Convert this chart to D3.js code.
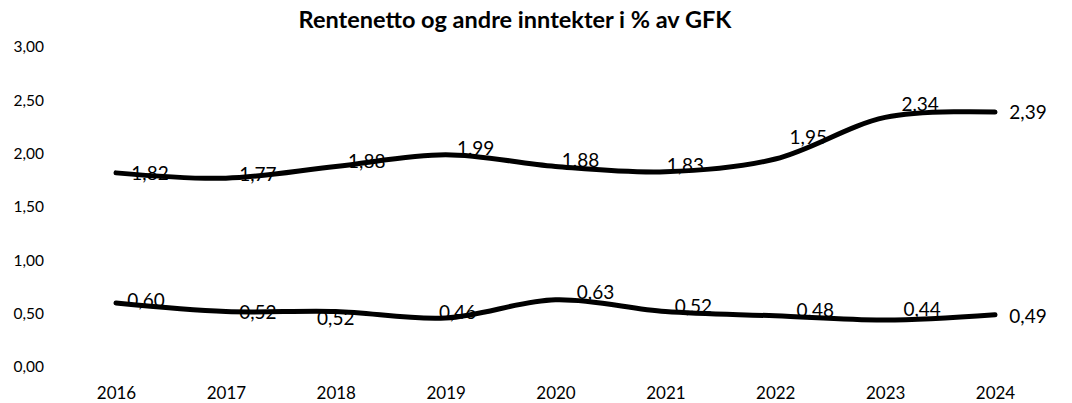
<!DOCTYPE html>
<html>
<head>
<meta charset="utf-8">
<script src="https://cdn.jsdelivr.net/npm/d3@7"></script>
<style>
  body { margin: 0; background: #fff; }
  svg { display: block; font-family: Lato, "Open Sans", sans-serif; }
</style>
</head>
<body>
<svg id="chart"></svg>
<script>
const years = ['2016', '2017', '2018', '2019', '2020', '2021', '2022', '2023', '2024'];
const rentenetto = [1.82, 1.77, 1.88, 1.99, 1.88, 1.83, 1.95, 2.34, 2.39];
const andreInntekter = [0.60, 0.52, 0.52, 0.46, 0.63, 0.52, 0.48, 0.44, 0.49];
const yTicks = [0, 0.5, 1, 1.5, 2, 2.5, 3];
const title = 'Rentenetto og andre inntekter i % av GFK';

const width = 1072, height = 403;
const fmt = d => d.toFixed(2).replace('.', ',');

// hand placed label nudges (dx, dy) from the point, like in the original sheet
const labelNudge = [
    [[34, 0], [32, -4], [31, -5], [30, -6], [25, -6], [20, -6], [33, -22], [35, -13], [33, 0]],
    [[30, -3], [32, 1], [0, 7], [12, -6], [40, -7], [28, -5], [40, -5], [37, -11], [33, 2]]
];

const svg = d3.select('#chart')
    .attr('width', width)
    .attr('height', height);

const x = d3.scalePoint()
    .domain(years)
    .range([116, 995]);

const y = d3.scaleLinear()
    .domain([0, 3])
    .range([367, 47]);

svg.append('text')
    .attr('x', 515)
    .attr('y', 28)
    .attr('text-anchor', 'middle')
    .attr('font-weight', 'bold')
    .attr('font-size', '23.5px')
    .text(title);

// y axis, labels only
const yAxis = svg.append('g')
    .attr('transform', 'translate(44,0)')
    .call(d3.axisLeft(y).tickValues(yTicks).tickFormat(fmt).tickSize(0).tickPadding(0));
yAxis.select('.domain').remove();
yAxis.selectAll('text')
    .attr('font-size', '15.5px')
    .attr('font-family', 'Lato, sans-serif')
    .attr('fill', '#000');

// x axis, labels only
const xAxis = svg.append('g')
    .attr('transform', 'translate(0,384)')
    .call(d3.axisBottom(x).tickSize(0).tickPadding(3));
xAxis.select('.domain').remove();
xAxis.selectAll('text')
    .attr('font-size', '17px')
    .attr('font-family', 'Lato, sans-serif')
    .attr('fill', '#000');

const line = d3.line()
    .x((d, i) => x(years[i]))
    .y(d => y(d))
    .curve(d3.curveCardinal.tension(0));

const series = [rentenetto, andreInntekter];

svg.selectAll('path.series')
    .data(series)
    .enter()
    .append('path')
    .attr('class', 'series')
    .attr('d', line)
    .attr('fill', 'none')
    .attr('stroke', '#000')
    .attr('stroke-width', 5)
    .attr('stroke-linecap', 'round')
    .attr('stroke-linejoin', 'round');

series.forEach((values, s) => {
    svg.append('g')
        .selectAll('text')
        .data(values)
        .enter()
        .append('text')
        .attr('x', (d, i) => x(years[i]) + labelNudge[s][i][0])
        .attr('y', (d, i) => y(d) + labelNudge[s][i][1])
        .attr('dy', '0.35em')
        .attr('text-anchor', 'middle')
        .attr('font-size', '19px')
        .attr('fill', '#000')
        .text(fmt);
});
</script>
</body>
</html>
